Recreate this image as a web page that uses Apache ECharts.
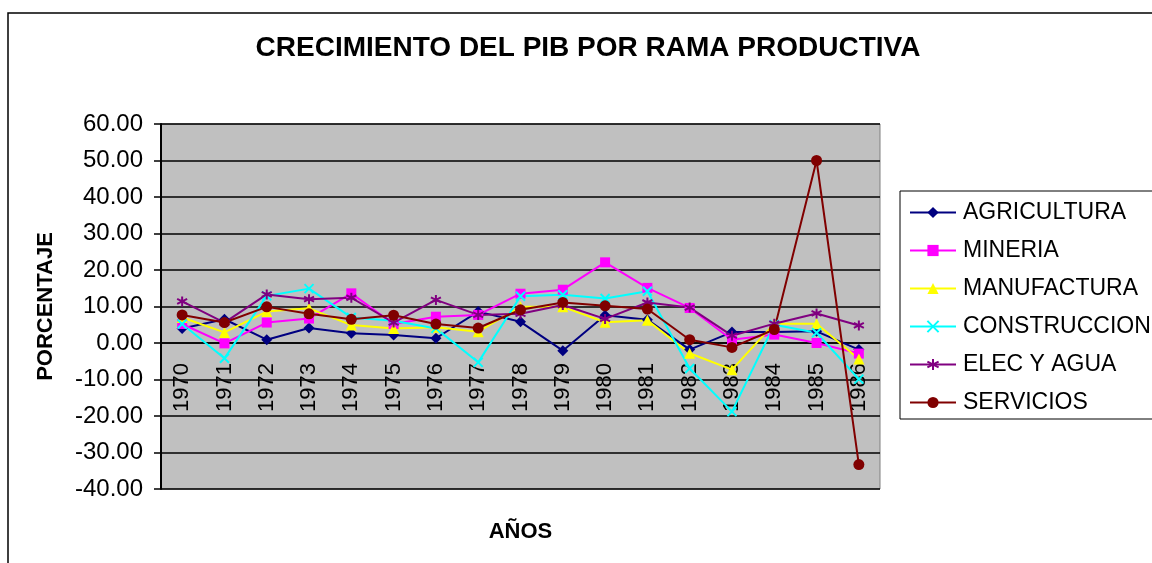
<!DOCTYPE html>
<html>
<head>
<meta charset="utf-8">
<script src="https://cdn.jsdelivr.net/npm/echarts@6/dist/echarts.min.js"></script>
<style>
html,body{margin:0;padding:0;background:#fff;}
#main{width:1152px;height:563px;}
</style>
</head>
<body>
<div id="main"></div>
<script>
var years = ['1970','1971','1972','1973','1974','1975','1976','1977','1978','1979','1980','1981','1982','1983','1984','1985','1986'];
var agricultura = [4.0, 6.5, 0.9, 4.1, 2.7, 2.2, 1.3, 8.6, 5.8, -2.1, 7.6, 6.4, -1.8, 3.0, 3.0, 3.2, -1.8];
var mineria = [5.2, -0.1, 5.6, 6.7, 13.6, 5.2, 7.2, 7.7, 13.5, 14.6, 22.1, 15.1, 9.6, 0.9, 2.3, 0.0, -2.9];
var manufactura = [7.0, 2.9, 8.6, 9.5, 4.9, 4.0, 4.3, 3.1, 9.9, 9.9, 5.7, 6.2, -2.8, -7.3, 5.3, 5.3, -4.4];
var construccion = [5.2, -4.2, 12.9, 14.9, 7.0, 6.1, 4.0, -5.3, 12.8, 13.2, 12.2, 14.2, -7.0, -18.8, 5.0, 2.8, -9.9];
var elecAgua = [11.4, 5.6, 13.3, 12.0, 12.4, 5.6, 11.8, 7.7, 8.0, 10.4, 6.6, 11.1, 9.7, 2.0, 5.3, 8.1, 4.8];
var servicios = [7.7, 5.6, 9.9, 8.0, 6.5, 7.6, 5.2, 4.1, 9.1, 11.1, 10.2, 9.3, 0.9, -1.2, 3.7, 50.0, -33.3];

var FONT = "'Liberation Sans', Arial, sans-serif";

function serie(name, data, color, symbol, size, stroke){
	return {
		name: name,
		type: 'line',
		data: data,
		symbol: symbol,
		symbolSize: size,
		showAllSymbol: true,
		lineStyle: {color: color, width: 2},
		itemStyle: {color: color, borderColor: color, borderWidth: stroke ? 2 : 0},
		emphasis: {disabled: true}
	};
}

function crecimiento(id){
	var option = {
		animation: false,
		textStyle: {fontFamily: FONT},
		graphic: [
			{type: 'rect', shape: {x: 8, y: 13, width: 1300, height: 700}, style: {fill: 'none', stroke: '#000', lineWidth: 1.5}},
			{type: 'rect', shape: {x: 900, y: 191, width: 400, height: 228}, style: {fill: 'none', stroke: '#000', lineWidth: 1}},
			{type: 'text', x: 588, y: 48, style: {text: 'CRECIMIENTO DEL PIB POR RAMA PRODUCTIVA', font: 'bold 28px ' + FONT, fill: '#000', align: 'center', verticalAlign: 'middle'}}
		],
		legend: {
			orient: 'vertical',
			left: 909,
			top: 201,
			padding: 0,
			itemWidth: 46,
			itemHeight: 14,
			itemGap: 15,
			textStyle: {fontSize: 23, color: '#000', fontFamily: FONT, lineHeight: 23, padding: [0, 0, 0, 2]},
			data: ['AGRICULTURA','MINERIA','MANUFACTURA','CONSTRUCCION','ELEC Y AGUA','SERVICIOS']
		},
		grid: {
			left: 161, top: 124, width: 719, height: 365,
			containLabel: false,
			outerBoundsMode: 'none',
			show: true, backgroundColor: '#C0C0C0', borderColor: '#808080', borderWidth: 1
		},
		xAxis: {
			type: 'category',
			data: years,
			boundaryGap: true,
			offset: -146,
			name: 'AÑOS',
			nameLocation: 'middle',
			nameGap: 178,
			nameTextStyle: {fontSize: 22, fontWeight: 'bold', color: '#000'},
			axisLine: {onZero: false, lineStyle: {color: '#000', width: 1.5}},
			axisTick: {length: 7, lineStyle: {color: '#000', width: 1.5}},
			axisLabel: {rotate: 90, fontSize: 22, color: '#000', margin: 20, interval: 0}
		},
		yAxis: {
			type: 'value',
			min: -40, max: 60, interval: 10,
			name: 'PORCENTAJE',
			nameLocation: 'middle',
			nameGap: 104,
			nameTextStyle: {fontSize: 22, fontWeight: 'bold', color: '#000'},
			axisLine: {show: true, lineStyle: {color: '#000', width: 2}},
			axisTick: {show: true, length: 7, lineStyle: {color: '#000', width: 1.5}},
			axisLabel: {fontSize: 24, color: '#000', margin: 18, formatter: function(v){ return v.toFixed(2); }},
			splitLine: {lineStyle: {color: '#000', width: 1.5}}
		},
		series: [
			serie('AGRICULTURA', agricultura, '#000080', 'diamond', 11, false),
			serie('MINERIA', mineria, '#FF00FF', 'rect', 10, false),
			serie('MANUFACTURA', manufactura, '#FFFF00', 'triangle', 11, false),
			serie('CONSTRUCCION', construccion, '#00FFFF', 'path://M0,0L10,10M10,0L0,10', 9, true),
			serie('ELEC Y AGUA', elecAgua, '#800080', 'path://M5,0L5,10M0.7,2.5L9.3,7.5M9.3,2.5L0.7,7.5', 10, true),
			serie('SERVICIOS', servicios, '#800000', 'circle', 11, false)
		]
	};
	var myChart = echarts.init(document.getElementById(id));
	myChart.setOption(option);
}

crecimiento('main');
</script>
</body>
</html>
